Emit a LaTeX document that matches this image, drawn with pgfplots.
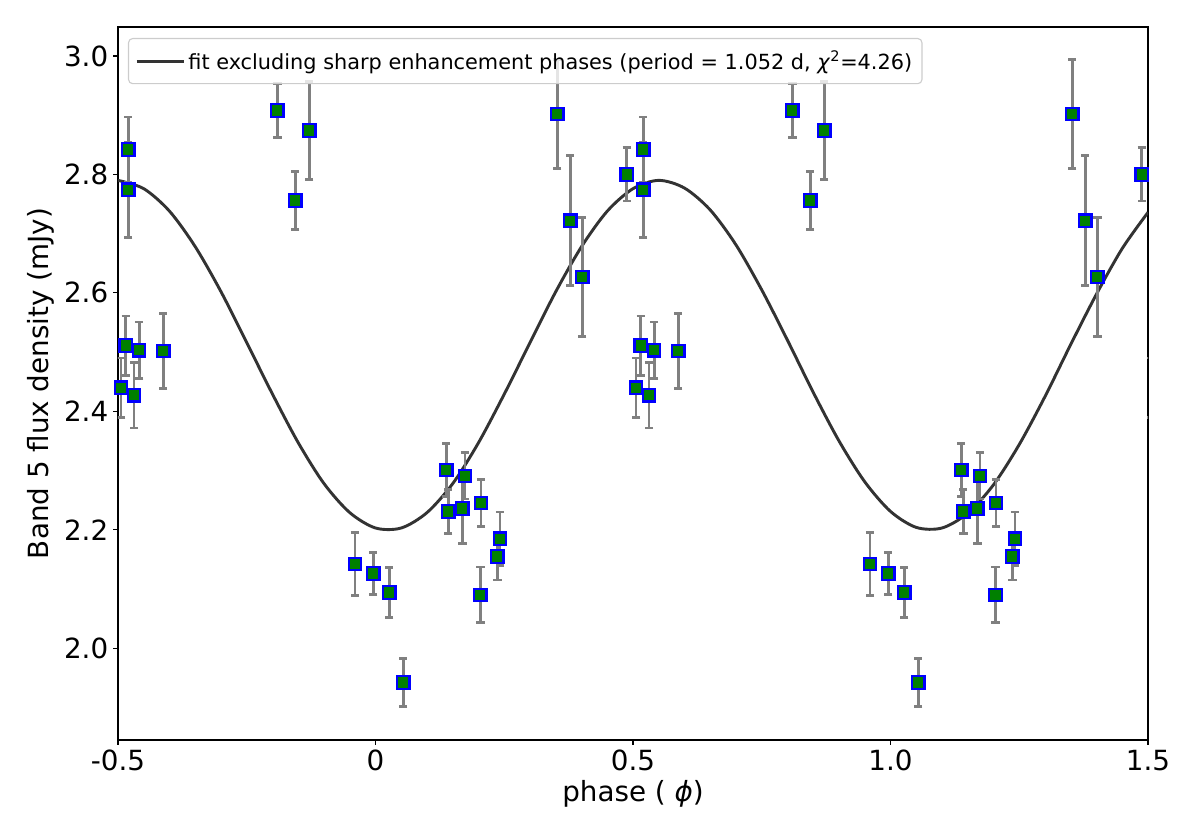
\documentclass[border=0pt]{standalone}
\usepackage{pgfplots}
\pgfplotsset{compat=1.18}
\usepackage{pgfplotstable}
\usepackage{fontspec}
\setmainfont{DejaVu Sans}
\definecolor{fitc}{HTML}{333333}
\definecolor{mgreen}{HTML}{008000}
\definecolor{lgd}{HTML}{CCCCCC}
\pgfplotstableread{
x y e
-0.494 2.440 0.050
-0.485 2.511 0.050
-0.480 2.842 0.055
-0.480 2.774 0.080
-0.469 2.427 0.055
-0.459 2.503 0.048
-0.412 2.502 0.063
-0.1906 2.908 0.045
-0.1557 2.756 0.049
-0.1285 2.874 0.083
-0.0398 2.142 0.053
-0.0043 2.126 0.035
0.0268 2.094 0.042
0.054 1.942 0.040
0.1375 2.301 0.045
0.1414 2.231 0.037
0.1686 2.236 0.059
0.1738 2.291 0.039
0.2036 2.090 0.047
0.2049 2.245 0.040
0.2366 2.155 0.040
0.2417 2.185 0.045
0.353 2.902 0.092
0.378 2.722 0.110
0.4016 2.627 0.100
0.488 2.800 0.045
}\data
\begin{document}
\begin{tikzpicture}
\useasboundingbox (0,0) rectangle (864pt,601.92pt);
\begin{axis}[
 at={(84.96pt,69.12pt)}, anchor=south west,
 width=741.6pt, height=513.36pt, scale only axis,
 xmin=-0.5, xmax=1.5, ymin=1.845, ymax=3.049,
 xtick={-0.5,0,0.5,1,1.5}, xticklabels={-0.5,0,0.5,1.0,1.5},
 ytick={2.0,2.2,2.4,2.6,2.8,3.0}, yticklabels={2.0,2.2,2.4,2.6,2.8,3.0},
 tick align=outside, tick pos=left, major tick length=3.5pt,
 tick style={black, line width=0.8pt},
 axis line style={line width=0.8pt},
 ticklabel style={font=\fontsize{20}{24}\selectfont},
 label style={font=\fontsize{20}{24}\selectfont},
 xlabel={phase ( \textit{ϕ})},
 ylabel={Band 5 flux density (mJy)},
 legend cell align=left,
 legend image code/.code={\draw[#1, line width=2.1pt] (0pt,0pt) -- (30pt,0pt); \path (0pt,0pt) -- (34pt,0pt);},
 legend style={at={(0.0097,0.9846)}, anchor=north west, draw=lgd, line width=0.8pt,
   rounded corners=3pt, fill=white, fill opacity=0.8, text opacity=1,
   font=\fontsize{15}{18}\selectfont, inner xsep=5pt, inner ysep=7pt},
]
\addplot[fitc, line width=2.1pt, smooth] coordinates {
(-0.50,2.790) (-0.45,2.776) (-0.40,2.738) (-0.35,2.678) (-0.30,2.602)
(-0.25,2.516) (-0.20,2.429) (-0.15,2.347) (-0.10,2.278) (-0.05,2.229)
(0.00,2.203) (0.05,2.203) (0.10,2.229) (0.15,2.278) (0.20,2.347)
(0.25,2.429) (0.30,2.516) (0.35,2.602) (0.40,2.678) (0.45,2.738)
(0.50,2.776) (0.55,2.790) (0.60,2.777) (0.65,2.740) (0.70,2.681)
(0.75,2.605) (0.80,2.520) (0.85,2.432) (0.90,2.350) (0.95,2.281)
(1.00,2.231) (1.05,2.204) (1.10,2.203) (1.15,2.228) (1.20,2.276)
(1.25,2.344) (1.30,2.425) (1.35,2.513) (1.40,2.598) (1.45,2.675)
(1.50,2.736)
};
\addlegendentry{fit excluding sharp enhancement phases (period = 1.052 d, \textit{χ}\textsuperscript{2}=4.26)}
\pgfplotsinvokeforeach{0,1,2}{
\addplot[forget plot, only marks, mark=square*, mark size=4.5pt,
  mark options={draw=blue, fill=mgreen, line width=1.6pt},
  error bars/.cd, y dir=both, y explicit,
  error bar style={gray, line width=2pt},
  error mark options={rotate=90, mark size=3pt, gray, line width=2pt}]
  table[x expr=\thisrow{x}+#1, y=y, y error=e]{\data};
}
\end{axis}
\end{tikzpicture}
\end{document}
